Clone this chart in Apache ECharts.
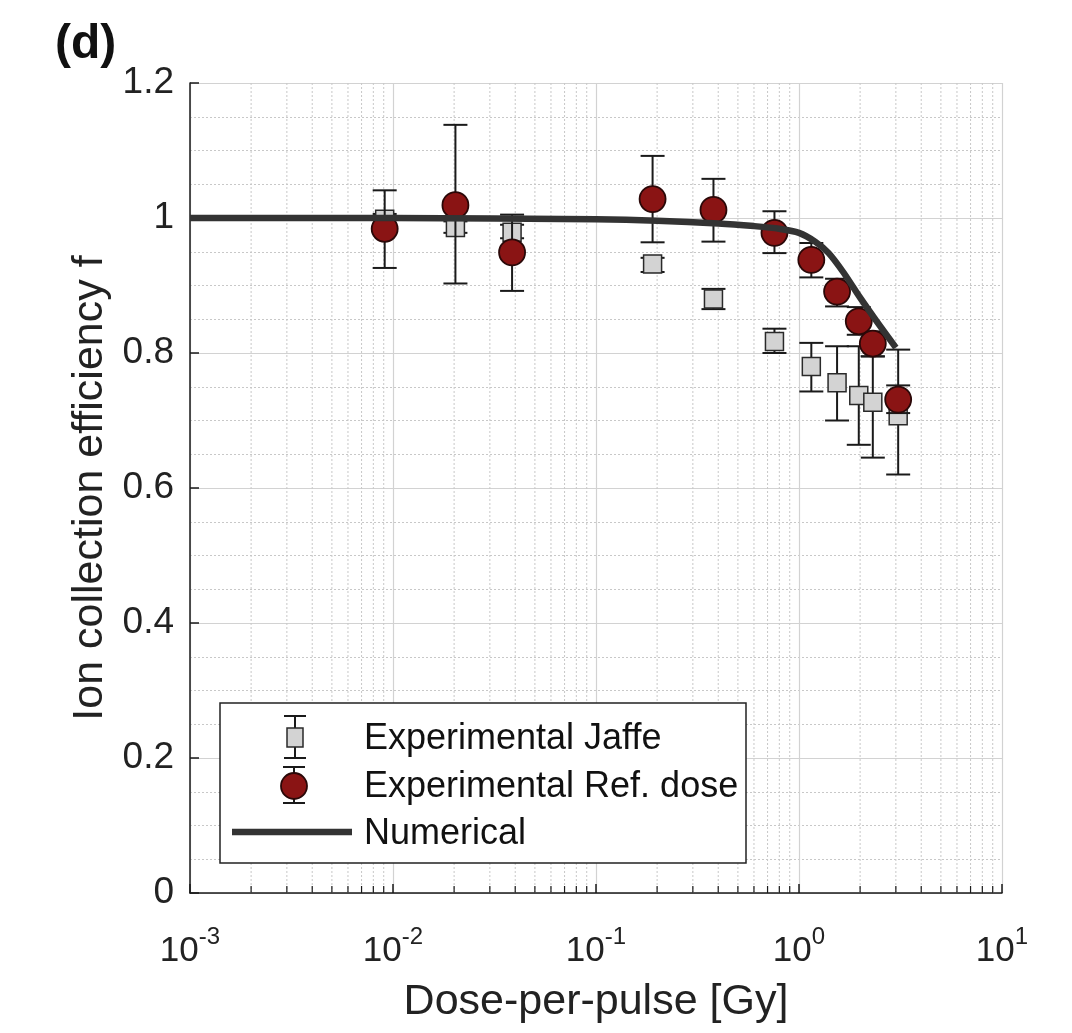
<!DOCTYPE html>
<html>
<head>
<meta charset="utf-8">
<script src="https://cdn.jsdelivr.net/npm/echarts@6/dist/echarts.min.js"></script>
<style>
html,body{margin:0;padding:0;background:#fff;}
#chart{width:1072px;height:1033px;}
</style>
</head>
<body>
<div id="chart"></div>
<script>
// ---- data ----
const doseX     = [0.0091, 0.0203, 0.0386, 0.19, 0.379, 0.757, 1.15, 1.54, 1.97, 2.31, 3.08];
const refY      = [0.984, 1.019, 0.949, 1.028, 1.012, 0.978, 0.938, 0.891, 0.847, 0.814, 0.731];
const refLow    = [0.926, 0.903, 0.892, 0.964, 0.965, 0.948, 0.912, 0.869, 0.827, 0.795, 0.711];
const refHigh   = [1.041, 1.138, 1.005, 1.092, 1.058, 1.010, 0.963, 0.910, 0.868, 0.832, 0.752];
const jaffeY    = [0.998, 0.986, 0.979, 0.932, 0.880, 0.817, 0.780, 0.756, 0.737, 0.727, 0.707];
const jaffeLow  = [0.990, 0.978, 0.970, 0.920, 0.865, 0.800, 0.743, 0.700, 0.664, 0.645, 0.620];
const jaffeHigh = [1.006, 0.995, 0.990, 0.941, 0.895, 0.836, 0.815, 0.810, 0.810, 0.795, 0.805];
const numX      = [0.001, 0.01, 0.1, 0.2, 0.4, 0.6, 0.8, 1.0, 1.2, 1.4, 1.65, 2.0, 2.4, 3.0];
const numY      = [1.0, 1.0, 0.998, 0.996, 0.992, 0.988, 0.984, 0.978, 0.965, 0.948, 0.92, 0.882, 0.848, 0.808];
const yTicks    = [0, 0.2, 0.4, 0.6, 0.8, 1, 1.2];
const xDecades  = [0.001, 0.01, 0.1, 1, 10];
const legendNames = ['Experimental Jaffe', 'Experimental Ref. dose', 'Numerical'];

const FONT = "'Liberation Sans', Arial, Helvetica, sans-serif";

// minor log positions (2..9 within each decade) for grid/ticks
const minorX = [];
for (let d = 0; d < xDecades.length - 1; d++) {
  for (let k = 2; k <= 9; k++) minorX.push([+(xDecades[d] * k).toPrecision(3)]);
}

function errData(lo, hi) { return doseX.map((x, i) => [x, lo[i], hi[i]]); }

function renderErr(params, api) {
  const x = api.value(0);
  const p1 = api.coord([x, api.value(1)]);
  const p2 = api.coord([x, api.value(2)]);
  const hw = 12;
  const st = { stroke: '#1a1a1a', lineWidth: 2 };
  return {
    type: 'group',
    children: [
      { type: 'line', shape: { x1: p1[0], y1: p1[1], x2: p2[0], y2: p2[1] }, style: st },
      { type: 'line', shape: { x1: p1[0] - hw, y1: p1[1], x2: p1[0] + hw, y2: p1[1] }, style: st },
      { type: 'line', shape: { x1: p2[0] - hw, y1: p2[1], x2: p2[0] + hw, y2: p2[1] }, style: st }
    ]
  };
}

function renderMinor(params, api) {
  const x = api.value(0);
  const b = api.coord([x, 0]);
  const t = api.coord([x, 1.2]);
  return {
    type: 'group',
    children: [
      { type: 'line', shape: { x1: b[0], y1: b[1], x2: t[0], y2: t[1] },
        style: { stroke: '#c8c8c8', lineWidth: 1, lineDash: [2, 2] } },
      { type: 'line', shape: { x1: b[0], y1: b[1], x2: b[0], y2: b[1] - 7 },
        style: { stroke: '#1a1a1a', lineWidth: 1.2 } }
    ]
  };
}

const chart = echarts.init(document.getElementById('chart'), null, { renderer: 'canvas' });

const option = {
  backgroundColor: '#fff',
  animation: false,
  grid: { left: 190, right: 70, top: 83, bottom: 140 },
  title: {
    text: '(d)', left: 50, top: 16,
    textStyle: { fontFamily: FONT, fontSize: 48, fontWeight: 'bold', color: '#111' }
  },
  xAxis: {
    type: 'log', logBase: 10, min: 0.001, max: 10,
    name: 'Dose-per-pulse [Gy]', nameLocation: 'middle', nameGap: 88,
    nameTextStyle: { fontFamily: FONT, fontSize: 43, color: '#222' },
    axisLine: { show: true, onZero: false, lineStyle: { color: '#1a1a1a', width: 1.5 } },
    axisTick: { show: true, inside: true, length: 9, lineStyle: { color: '#1a1a1a', width: 1.5 } },
    splitLine: { show: true, lineStyle: { color: '#d2d2d2', width: 1.2 } },
    axisLabel: {
      margin: 32,
      formatter: function (v) {
        const e = Math.round(Math.log10(v));
        return '{b|10}{e|' + e + '}';
      },
      rich: {
        b: { fontFamily: FONT, fontSize: 35, color: '#222', verticalAlign: 'bottom' },
        e: { fontFamily: FONT, fontSize: 24, color: '#222', verticalAlign: 'bottom', padding: [0, 0, 20, 0] }
      }
    }
  },
  yAxis: {
    type: 'value', min: 0, max: 1.2, interval: 0.2,
    name: 'Ion collection efficiency f', nameLocation: 'middle', nameGap: 76,
    nameTextStyle: { fontFamily: FONT, fontSize: 43, color: '#222' },
    axisLine: { show: true, lineStyle: { color: '#1a1a1a', width: 1.5 } },
    axisTick: { show: true, inside: true, length: 9, lineStyle: { color: '#1a1a1a', width: 1.5 } },
    minorTick: { show: false, splitNumber: 4 },
    splitLine: { show: true, lineStyle: { color: '#d2d2d2', width: 1.2 } },
    minorSplitLine: { show: true, lineStyle: { color: '#c8c8c8', width: 1, type: [2, 2] } },
    axisLabel: {
      margin: 16, fontFamily: FONT, fontSize: 37, color: '#222',
      formatter: function (v) { return String(parseFloat(v.toFixed(1))); }
    }
  },
  series: [
    { type: 'custom', name: 'minorGrid', renderItem: renderMinor, data: minorX, silent: true, z: 1,
      encode: { x: 0 } },
    { type: 'custom', name: 'jaffeErr', renderItem: renderErr, data: errData(jaffeLow, jaffeHigh), z: 3,
      encode: { x: 0, y: [1, 2] } },
    { type: 'scatter', name: legendNames[0], data: doseX.map((x, i) => [x, jaffeY[i]]),
      symbol: 'rect', symbolSize: [18, 18], z: 4,
      itemStyle: { color: '#d3d3d3', borderColor: '#2a2a2a', borderWidth: 1.5, opacity: 1 } },
    { type: 'custom', name: 'refErr', renderItem: renderErr, data: errData(refLow, refHigh), z: 5,
      encode: { x: 0, y: [1, 2] } },
    { type: 'scatter', name: legendNames[1], data: doseX.map((x, i) => [x, refY[i]]),
      symbol: 'circle', symbolSize: 26, z: 6,
      itemStyle: { color: '#8a1414', borderColor: '#2a0808', borderWidth: 1.8, opacity: 1 } },
    { type: 'line', name: legendNames[2], data: numX.map((x, i) => [x, numY[i]]),
      smooth: 0.3, showSymbol: false, z: 7,
      lineStyle: { color: '#333333', width: 6.5 } }
  ],
  graphic: [
    { type: 'rect', z: 100, shape: { x: 220, y: 703, width: 526, height: 160 },
      style: { fill: '#fff', stroke: '#222', lineWidth: 1.5 } },
    // Jaffe icon
    { type: 'line', z: 101, shape: { x1: 295, y1: 716, x2: 295, y2: 758 }, style: { stroke: '#1a1a1a', lineWidth: 2 } },
    { type: 'line', z: 101, shape: { x1: 284, y1: 716, x2: 306, y2: 716 }, style: { stroke: '#1a1a1a', lineWidth: 2 } },
    { type: 'line', z: 101, shape: { x1: 284, y1: 758, x2: 306, y2: 758 }, style: { stroke: '#1a1a1a', lineWidth: 2 } },
    { type: 'rect', z: 102, shape: { x: 287, y: 728, width: 16, height: 19 },
      style: { fill: '#d3d3d3', stroke: '#2a2a2a', lineWidth: 1.5 } },
    // Ref icon
    { type: 'line', z: 101, shape: { x1: 294, y1: 767, x2: 294, y2: 803 }, style: { stroke: '#1a1a1a', lineWidth: 2 } },
    { type: 'line', z: 101, shape: { x1: 283, y1: 767, x2: 305, y2: 767 }, style: { stroke: '#1a1a1a', lineWidth: 2 } },
    { type: 'line', z: 101, shape: { x1: 283, y1: 803, x2: 305, y2: 803 }, style: { stroke: '#1a1a1a', lineWidth: 2 } },
    { type: 'circle', z: 102, shape: { cx: 294, cy: 786, r: 13 },
      style: { fill: '#8a1414', stroke: '#2a0808', lineWidth: 1.8 } },
    // Numerical icon
    { type: 'line', z: 101, shape: { x1: 232, y1: 832, x2: 352, y2: 832 }, style: { stroke: '#333', lineWidth: 6.5 } },
    { type: 'text', z: 103, x: 364, y: 739, style: { text: legendNames[0], fontFamily: FONT, fontSize: 36, fill: '#111', textVerticalAlign: 'middle', verticalAlign: 'middle' } },
    { type: 'text', z: 103, x: 364, y: 787, style: { text: legendNames[1], fontFamily: FONT, fontSize: 36, fill: '#111', textVerticalAlign: 'middle', verticalAlign: 'middle' } },
    { type: 'text', z: 103, x: 364, y: 834, style: { text: legendNames[2], fontFamily: FONT, fontSize: 36, fill: '#111', textVerticalAlign: 'middle', verticalAlign: 'middle' } }
  ]
};

chart.setOption(option);
</script>
</body>
</html>
